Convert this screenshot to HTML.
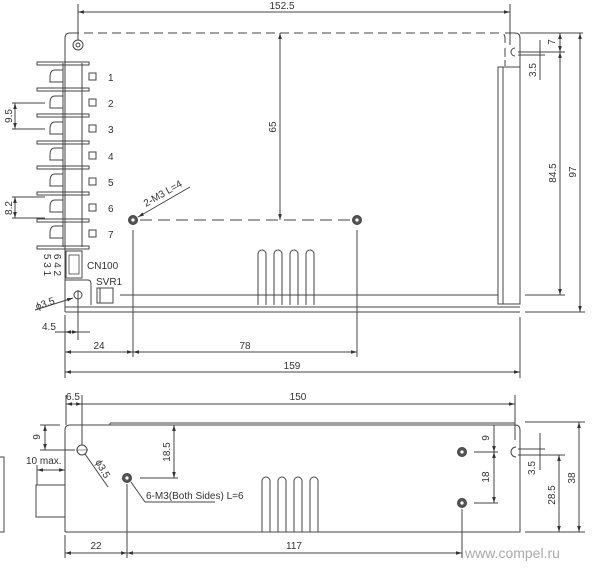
<!DOCTYPE html>
<html><head><meta charset="utf-8"><style>
html,body{margin:0;padding:0;background:#fff;width:600px;height:570px;overflow:hidden}
svg{display:block}
text{font-family:"Liberation Sans",sans-serif;font-size:10px;fill:#333}
</style></head><body>
<svg width="600" height="570" viewBox="0 0 600 570" xmlns="http://www.w3.org/2000/svg">
<defs>
<marker id="a" viewBox="0 0 10 10" refX="10" refY="5" markerWidth="6" markerHeight="6" orient="auto-start-reverse"><path d="M0,2 L10,5 L0,8z" fill="#333"/></marker>
</defs>
<g stroke="#444" stroke-width="1" fill="none">
<line x1="78" y1="12" x2="510" y2="12" marker-start="url(#a)" marker-end="url(#a)"/>
<line x1="78" y1="4" x2="78" y2="40"/><line x1="510" y1="4" x2="510" y2="45"/>
<path d="M65,312 V38 Q65,33 70,33" />
<path d="M70,33 H500 Q505,33 505,38 V60" stroke-dasharray="9,5"/>
<path d="M505,33 H515 Q520,33 520,38 V304"/>
<path d="M505,60 V66"/>
<path d="M515,48 A4,4 0 0 0 515,56"/>
<line x1="520" y1="33" x2="583" y2="33"/>
<line x1="518" y1="52" x2="565" y2="52"/>
<line x1="518" y1="55" x2="545" y2="55"/>
<rect x="498" y="67" width="22" height="237"/>
<line x1="503" y1="67" x2="503" y2="304"/>
<circle cx="78" cy="45" r="5"/><circle cx="78" cy="45" r="2"/>
<line x1="280" y1="33" x2="280" y2="220" marker-start="url(#a)" marker-end="url(#a)"/>
<line x1="140" y1="220" x2="350" y2="220" stroke-dasharray="12,6"/>
<circle cx="133" cy="220" r="4.5" fill="#555"/><circle cx="357" cy="220" r="4.5" fill="#555"/>
<circle cx="133" cy="220" r="1.6" fill="#fff" stroke="none"/><circle cx="357" cy="220" r="1.6" fill="#fff" stroke="none"/>
<line x1="138" y1="217" x2="190" y2="187" marker-start="url(#a)"/>
<line x1="133" y1="230" x2="133" y2="357"/><line x1="357" y1="230" x2="357" y2="357"/>
<line x1="63" y1="63" x2="63" y2="247"/>
<line x1="82" y1="63" x2="82" y2="247"/>
<g>
<rect x="37" y="62" width="52" height="3"/><rect x="37" y="88" width="52" height="3"/><rect x="37" y="114" width="52" height="3"/><rect x="37" y="141" width="52" height="3"/><rect x="37" y="166" width="52" height="3"/><rect x="37" y="192" width="52" height="3"/><rect x="37" y="219" width="52" height="3"/><rect x="37" y="246" width="52" height="3"/>
</g>
<path d="M63,70 H55 Q50,70 50,77 V82 H63"/><path d="M63,96 H55 Q50,96 50,103 V108 H63"/><path d="M63,122 H55 Q50,122 50,129 V134 H63"/><path d="M63,148 H55 Q50,148 50,155 V160 H63"/><path d="M63,174 H55 Q50,174 50,181 V186 H63"/><path d="M63,200 H55 Q50,200 50,207 V212 H63"/><path d="M63,226 H55 Q50,226 50,233 V238 H63"/>
<rect x="89" y="73" width="7" height="7"/><rect x="89" y="99" width="7" height="7"/><rect x="89" y="125" width="7" height="7"/><rect x="89" y="152" width="7" height="7"/><rect x="89" y="178" width="7" height="7"/><rect x="89" y="204" width="7" height="7"/><rect x="89" y="230" width="7" height="7"/>
<line x1="15" y1="103" x2="15" y2="129" marker-start="url(#a)" marker-end="url(#a)"/>
<line x1="12" y1="103" x2="45" y2="103"/><line x1="12" y1="129" x2="45" y2="129"/>
<line x1="15" y1="197" x2="15" y2="218" marker-start="url(#a)" marker-end="url(#a)"/>
<line x1="12" y1="197" x2="45" y2="197"/><line x1="12" y1="218" x2="45" y2="218"/>
<rect x="66" y="251" width="16" height="27"/>
<rect x="69" y="255" width="10" height="19" stroke-width="0.8"/>
<path d="M65,280 H88 Q91,280 91,284 V305"/>
<rect x="97" y="288" width="16" height="15"/><line x1="100" y1="288" x2="100" y2="303"/>
<circle cx="78" cy="295" r="4"/>
<line x1="120" y1="295" x2="498" y2="295"/>
<line x1="78" y1="290" x2="78" y2="340"/>
<line x1="35" y1="310" x2="73" y2="298" marker-end="url(#a)"/>
<line x1="65" y1="307" x2="520" y2="307"/><line x1="65" y1="312" x2="520" y2="312"/>
<path d="M258,305 V254 A4,4 0 0 1 266,254 V305"/><path d="M274,305 V254 A4,4 0 0 1 282,254 V305"/><path d="M290,305 V254 A4,4 0 0 1 298,254 V305"/><path d="M306,305 V254 A4,4 0 0 1 314,254 V305"/>
<line x1="540" y1="40" x2="540" y2="80"/>
<line x1="560" y1="33" x2="560" y2="52" marker-start="url(#a)" marker-end="url(#a)"/>
<line x1="560" y1="52" x2="560" y2="295" marker-start="url(#a)" marker-end="url(#a)"/>
<line x1="525" y1="295" x2="565" y2="295"/>
<line x1="580" y1="33" x2="580" y2="312" marker-start="url(#a)" marker-end="url(#a)"/>
<line x1="525" y1="312" x2="585" y2="312"/>
<line x1="65" y1="315" x2="65" y2="378"/><line x1="520" y1="317" x2="520" y2="378"/>
<line x1="55" y1="332" x2="65" y2="332"/><line x1="65" y1="332" x2="78" y2="332" marker-start="url(#a)" marker-end="url(#a)"/><line x1="78" y1="332" x2="90" y2="332"/>
<line x1="65" y1="352" x2="133" y2="352" marker-start="url(#a)" marker-end="url(#a)"/>
<line x1="133" y1="352" x2="357" y2="352" marker-start="url(#a)" marker-end="url(#a)"/>
<line x1="65" y1="372" x2="520" y2="372" marker-start="url(#a)" marker-end="url(#a)"/>

<line x1="66" y1="395" x2="66" y2="425"/><line x1="82" y1="395" x2="82" y2="445"/><line x1="515" y1="395" x2="515" y2="440"/>
<line x1="66" y1="404" x2="82" y2="404" marker-start="url(#a)" marker-end="url(#a)"/>
<line x1="82" y1="404" x2="515" y2="404" marker-end="url(#a)"/>
<path d="M65,532 V430 Q65,425 70,425 H515 Q520,425 520,430 V532 H65"/>
<line x1="110" y1="423" x2="515" y2="423"/><line x1="110" y1="423" x2="110" y2="425"/>
<line x1="40" y1="425" x2="60" y2="425"/><line x1="40" y1="450" x2="75" y2="450"/>
<line x1="45" y1="425" x2="45" y2="450" marker-start="url(#a)" marker-end="url(#a)"/>
<line x1="37" y1="470" x2="65" y2="470" marker-start="url(#a)" marker-end="url(#a)"/>
<line x1="37" y1="465" x2="37" y2="485"/>
<rect x="36" y="485" width="29" height="32"/>
<path d="M0,457 H4 V532 H0"/>
<circle cx="82" cy="450" r="5"/><line x1="76" y1="450" x2="88" y2="450" stroke-width="0.6"/>
<line x1="85" y1="454" x2="108" y2="487"/>
<circle cx="127" cy="478" r="4.5" fill="#555"/><circle cx="127" cy="478" r="1.6" fill="#fff" stroke="none"/>
<line x1="127" y1="484" x2="127" y2="558"/>
<line x1="131" y1="482" x2="145" y2="502"/><line x1="145" y1="502" x2="215" y2="502"/>
<line x1="140" y1="478" x2="178" y2="478"/><line x1="160" y1="425" x2="178" y2="425"/>
<line x1="174" y1="425" x2="174" y2="478" marker-start="url(#a)" marker-end="url(#a)"/>
<path d="M262,532 V481 A4,4 0 0 1 270,481 V532"/><path d="M278,532 V481 A4,4 0 0 1 286,481 V532"/><path d="M294,532 V481 A4,4 0 0 1 302,481 V532"/><path d="M310,532 V481 A4,4 0 0 1 318,481 V532"/>
<circle cx="462" cy="452" r="4.5" fill="#555"/><circle cx="462" cy="452" r="1.6" fill="#fff" stroke="none"/>
<circle cx="462" cy="503" r="4.5" fill="#555"/><circle cx="462" cy="503" r="1.6" fill="#fff" stroke="none"/>
<line x1="462" y1="509" x2="462" y2="558"/>
<line x1="474" y1="452" x2="498" y2="452"/><line x1="474" y1="503" x2="498" y2="503"/>
<line x1="494" y1="425" x2="494" y2="452" marker-end="url(#a)"/>
<line x1="494" y1="452" x2="494" y2="503" marker-start="url(#a)" marker-end="url(#a)"/>
<path d="M516,447 A5,5 0 0 0 516,457"/>
<line x1="518" y1="449" x2="545" y2="449"/><line x1="518" y1="455" x2="565" y2="455"/>
<line x1="540" y1="433" x2="540" y2="470"/>
<line x1="525" y1="422" x2="585" y2="422"/><line x1="525" y1="532" x2="585" y2="532"/>
<line x1="559" y1="455" x2="559" y2="532" marker-start="url(#a)" marker-end="url(#a)"/>
<line x1="579" y1="422" x2="579" y2="532" marker-start="url(#a)" marker-end="url(#a)"/>
<line x1="65" y1="535" x2="65" y2="558"/>
<line x1="65" y1="553" x2="127" y2="553" marker-start="url(#a)" marker-end="url(#a)"/>
<line x1="127" y1="553" x2="462" y2="553" marker-start="url(#a)" marker-end="url(#a)"/>
</g>
<text x="282" y="9" text-anchor="middle">152.5</text>
<text transform="translate(276,127) rotate(-90)" text-anchor="middle">65</text>
<text transform="translate(146,207) rotate(-30)">2-M3 L=4</text>
<text x="108" y="81">1</text><text x="108" y="107">2</text><text x="108" y="133">3</text><text x="108" y="160">4</text><text x="108" y="186">5</text><text x="108" y="212">6</text><text x="108" y="238">7</text>
<text transform="translate(12,116) rotate(-90)" text-anchor="middle">9.5</text>
<text transform="translate(12,208) rotate(-90)" text-anchor="middle">8.2</text>
<text transform="translate(44,265) rotate(90)" text-anchor="middle">5 3 1</text>
<text transform="translate(54,265) rotate(90)" text-anchor="middle">6 4 2</text>
<text x="87" y="269">CN100</text>
<text x="96" y="285">SVR1</text>
<text transform="translate(37,310) rotate(-20)">ϕ3.5</text>
<text x="42" y="330">4.5</text>
<text x="99" y="349" text-anchor="middle">24</text>
<text x="245" y="349" text-anchor="middle">78</text>
<text x="292" y="369" text-anchor="middle">159</text>
<text transform="translate(555,42) rotate(-90)" text-anchor="middle">7</text>
<text transform="translate(536,70) rotate(-90)" text-anchor="middle">3.5</text>
<text transform="translate(556,173) rotate(-90)" text-anchor="middle">84.5</text>
<text transform="translate(576,172) rotate(-90)" text-anchor="middle">97</text>
<text x="73" y="400" text-anchor="middle">6.5</text>
<text x="298" y="400" text-anchor="middle">150</text>
<text transform="translate(40,437) rotate(-90)" text-anchor="middle">9</text>
<text x="26" y="464">10 max.</text>
<text transform="translate(95,462) rotate(60)" font-size="9">ϕ3.5</text>
<text transform="translate(170,452) rotate(-90)" text-anchor="middle">18.5</text>
<text x="146" y="499">6-M3(Both Sides) L=6</text>
<text transform="translate(489,438) rotate(-90)" text-anchor="middle">9</text>
<text transform="translate(489,477) rotate(-90)" text-anchor="middle">18</text>
<text transform="translate(535,468) rotate(-90)" text-anchor="middle">3.5</text>
<text transform="translate(555,495) rotate(-90)" text-anchor="middle">28.5</text>
<text transform="translate(575,478) rotate(-90)" text-anchor="middle">38</text>
<text x="96" y="549" text-anchor="middle">22</text>
<text x="294" y="549" text-anchor="middle">117</text>
<text x="465" y="558" style="font-size:14px;fill:#aaa">www.compel.ru</text>
</svg>
</body></html>
